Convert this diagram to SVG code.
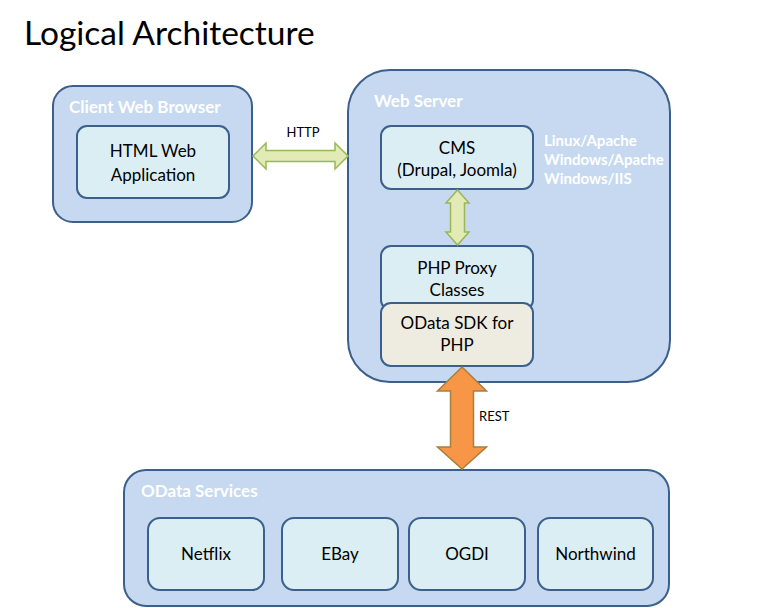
<svg xmlns="http://www.w3.org/2000/svg" width="768" height="608" viewBox="0 0 768 608">
<style>
.outer{fill:#c6d9f0;stroke:#3c5f8b;stroke-width:2}
.inner{fill:#dbeef4;stroke:#3c5f8b;stroke-width:2}
.sdk{fill:#eeece1;stroke:#3c5f8b;stroke-width:2}
.grp{font-family:Lato,"Liberation Sans",sans-serif;font-weight:bold;font-size:17px;fill:#ffffff}
.os{font-family:Lato,"Liberation Sans",sans-serif;font-weight:bold;font-size:15px;fill:#ffffff}
.lbl{font-family:Lato,"Liberation Sans",sans-serif;font-size:17px;fill:#000000;text-anchor:middle}
.small{font-family:Lato,"Liberation Sans",sans-serif;font-size:13px;fill:#000000}
.green{fill:#e2eab5;stroke:#98b954;stroke-width:1.5}
.orange{fill:#f79646;stroke:#a7803a;stroke-width:1.5}
</style>
<rect width="768" height="608" fill="#ffffff"/>
<text x="24" y="45" style="font-family:Lato,'Liberation Sans',sans-serif;font-size:33.5px;fill:#000000">Logical Architecture</text>

<g id="client-web-browser">
<rect class="outer" x="53" y="86" width="199" height="136" rx="20"/>
<text class="grp" x="69" y="113">Client Web Browser</text>
</g>
<g id="html-web-application">
<rect class="inner" x="77" y="126" width="152" height="72" rx="10"/>
<text class="lbl" x="153" y="157">HTML Web</text>
<text class="lbl" x="153" y="181">Application</text>
</g>

<g id="web-server">
<rect class="outer" x="348" y="70" width="322" height="312" rx="42"/>
<text class="grp" x="374" y="107">Web Server</text>
<text class="os" x="544" y="146">Linux/Apache</text>
<text class="os" x="544" y="165">Windows/Apache</text>
<text class="os" x="544" y="184">Windows/IIS</text>
</g>
<g id="cms">
<rect class="inner" x="381" y="126" width="152" height="63" rx="10"/>
<text class="lbl" x="457" y="154">CMS</text>
<text class="lbl" x="457" y="176">(Drupal, Joomla)</text>
</g>
<g id="php-proxy-classes">
<rect class="inner" x="381" y="246" width="152" height="64" rx="10"/>
<text class="lbl" x="457" y="274">PHP Proxy</text>
<text class="lbl" x="457" y="296">Classes</text>
</g>
<g id="odata-sdk-for-php">
<rect class="sdk" x="381" y="303" width="152" height="63" rx="10"/>
<text class="lbl" x="457" y="329">OData SDK for</text>
<text class="lbl" x="457" y="351">PHP</text>
</g>

<g id="odata-services">
<rect class="outer" x="124" y="470" width="545" height="136" rx="22"/>
<text class="grp" x="141" y="497">OData Services</text>
</g>
<g id="netflix">
<rect class="inner" x="148" y="518" width="116" height="72" rx="12"/>
<text class="lbl" x="206" y="560">Netflix</text>
</g>
<g id="ebay">
<rect class="inner" x="282" y="518" width="116" height="72" rx="12"/>
<text class="lbl" x="340" y="560">EBay</text>
</g>
<g id="ogdi">
<rect class="inner" x="409" y="518" width="116" height="72" rx="12"/>
<text class="lbl" x="467" y="560">OGDI</text>
</g>
<g id="northwind">
<rect class="inner" x="538" y="518" width="115" height="72" rx="12"/>
<text class="lbl" x="595.5" y="560">Northwind</text>
</g>

<g id="connectors">
<path class="green" d="M253,156 L266,143 L266,150.5 L335,150.5 L335,143 L348,156 L335,169 L335,161.5 L266,161.5 L266,169 Z"/>
<text class="small" x="303" y="137" text-anchor="middle">HTTP</text>
<path class="green" d="M457.5,190 L469,203 L464.5,203 L464.5,232 L469,232 L457.5,245 L446,232 L450.5,232 L450.5,203 L446,203 Z"/>
<path class="orange" d="M462,367 L486.5,391 L473.5,391 L473.5,447 L486.5,447 L462,469 L437.5,447 L450.5,447 L450.5,391 L437.5,391 Z"/>
<text class="small" x="479" y="421">REST</text>
</g>
</svg>
